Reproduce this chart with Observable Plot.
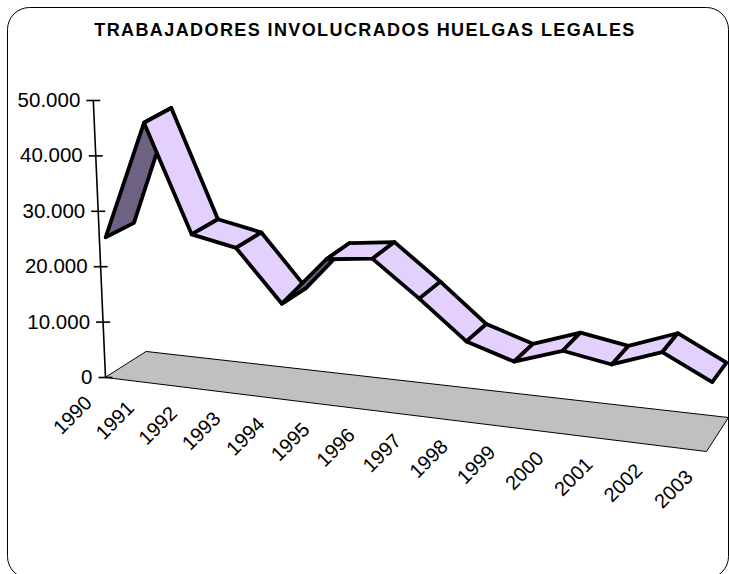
<!DOCTYPE html>
<html>
<head>
<meta charset="utf-8">
<script src="https://cdn.jsdelivr.net/npm/d3@7"></script>
<script src="https://cdn.jsdelivr.net/npm/@observablehq/plot@0.6"></script>
<style>
  html, body { margin: 0; padding: 0; background: #ffffff; }
  #chart { width: 729px; height: 574px; overflow: hidden; }
</style>
</head>
<body>
<div id="chart"></div>
<script>
// ---------- data ----------
const title = "TRABAJADORES INVOLUCRADOS HUELGAS LEGALES";
const years = ["1990","1991","1992","1993","1994","1995","1996","1997","1998","1999","2000","2001","2002","2003"];
const workers = [24600, 46200, 27000, 25500, 16400, 25400, 26500, 20300, 13600, 11000, 14000, 12600, 15900, 11600];
const tickValues = [0, 10000, 20000, 30000, 40000, 50000];
const tickLabels = ["0", "10.000", "20.000", "30.000", "40.000", "50.000"];

// ---------- 3D projection (layout constants) ----------
const P00 = [105, 377], P10 = [706, 451], P01 = [146, 351], P11 = [728, 417]; // floor corners
const LAMBDA = 1.1;            // perspective foreshortening along categories
const KPX = 277 / 50000;       // px per unit of value
const S0 = -0.044, S1 = 0.037; // vertical slant at left / right
const ZF = 0.15;               // depth of ribbon front edge
const n = years.length;

function gOf(i) { const t = i / (n - 1); return t / (LAMBDA - (LAMBDA - 1) * t); }
function floorPt(g, z) {
  const F = [P00[0] + g * (P10[0] - P00[0]), P00[1] + g * (P10[1] - P00[1])];
  const K = [P01[0] + g * (P11[0] - P01[0]), P01[1] + g * (P11[1] - P01[1])];
  return [F[0] + z * (K[0] - F[0]), F[1] + z * (K[1] - F[1])];
}
function proj(i, v, z) {
  const g = gOf(i), b = floorPt(g, z), s = S0 + (S1 - S0) * g, h = KPX * v;
  return [b[0] + s * h, b[1] - h];
}
function depthVec(i) { const g = gOf(i); return [28.3 - 14 * g, -14.4 - 5 * g]; }

// ---------- derived geometry ----------
const floorPoly = [proj(0, 0, 0), proj(n - 1, 0, 0), proj(n - 1, 0, 1), proj(0, 0, 1)]
  .map(([x, y]) => ({x, y}));

const faces = [];
for (let i = 0; i < n - 1; i++) {
  const f0 = proj(i, workers[i], ZF), f1 = proj(i + 1, workers[i + 1], ZF);
  const d0 = depthVec(i), d1 = depthVec(i + 1);
  const b0 = [f0[0] + d0[0], f0[1] + d0[1]], b1 = [f1[0] + d1[0], f1[1] + d1[1]];
  const seg = [f1[0] - f0[0], f1[1] - f0[1]];
  const dm = [(d0[0] + d1[0]) / 2, (d0[1] + d1[1]) / 2];
  const cross = seg[0] * dm[1] - seg[1] * dm[0];
  faces.push({dark: cross > 0, pts: [f0, f1, b1, b0].map(([x, y]) => ({x, y}))});
}

const axisPts = tickValues.map(v => { const [x, y] = proj(0, v, 0); return {x, y}; });
const tickData = tickValues.map((v, k) => { const [x, y] = proj(0, v, 0); return {x, y, label: tickLabels[k]}; });
const catLabels = years.map((yr, i) => { const [x, y] = floorPt(gOf(i), 0); return {x: x - 17, y: y + 22, label: yr}; });

const FONT = "'Liberation Sans', Arial, Helvetica, sans-serif";

const marks = [
  Plot.frame({stroke: "#000", strokeWidth: 1, rx: 22, insetLeft: 7, insetTop: 7, insetRight: 1, insetBottom: -4}),
  Plot.text([title], {frameAnchor: "top", dy: 30, lineAnchor: "middle", text: d => d, fontSize: 18, fontWeight: "bold", fontFamily: FONT, fill: "#000"}),
  Plot.line(floorPoly, {x: "x", y: "y", curve: "linear-closed", fill: "#c0c0c0", stroke: "#000", strokeWidth: 1}),
  Plot.line(axisPts, {x: "x", y: "y", stroke: "#000", strokeWidth: 1.6}),
  Plot.link(tickData, {x1: d => d.x - 7, x2: d => d.x + 7, y1: "y", y2: "y", stroke: "#000", strokeWidth: 1.6}),
  Plot.text(tickData, {x: d => d.x - 13, y: "y", text: "label", textAnchor: "end", fontSize: 20.5, fontFamily: FONT, fill: "#000"}),
  Plot.text(catLabels, {x: "x", y: "y", text: "label", textAnchor: "end", rotate: -45, fontSize: 20, fontFamily: FONT, fill: "#000"}),
  ...faces.map(f => Plot.line(f.pts, {x: "x", y: "y", curve: "linear-closed",
      fill: f.dark ? "url(#ribbonDark)" : "url(#ribbonLight)",
      stroke: "#000", strokeWidth: 3.8, strokeLinejoin: "round"}))
];

const svg = Plot.plot({
  width: 729, height: 574, margin: 0,
  x: {type: "linear", domain: [0, 729], range: [0, 729], axis: null},
  y: {type: "linear", domain: [0, 574], range: [0, 574], axis: null},
  style: {background: "#fff", overflow: "hidden"},
  marks
});

// stripe patterns for the ribbon faces
const NS = "http://www.w3.org/2000/svg";
const defs = document.createElementNS(NS, "defs");
function addPattern(id, c1, c2) {
  const p = document.createElementNS(NS, "pattern");
  p.setAttribute("id", id); p.setAttribute("patternUnits", "userSpaceOnUse");
  p.setAttribute("width", "4"); p.setAttribute("height", "2");
  const r1 = document.createElementNS(NS, "rect");
  r1.setAttribute("width", "4"); r1.setAttribute("height", "2"); r1.setAttribute("fill", c2);
  const r2 = document.createElementNS(NS, "rect");
  r2.setAttribute("width", "4"); r2.setAttribute("height", "1"); r2.setAttribute("fill", c1);
  p.appendChild(r1); p.appendChild(r2); defs.appendChild(p);
}
addPattern("ribbonLight", "#cdaefb", "#f8f2ff");
addPattern("ribbonDark", "#574a6a", "#85789a");
svg.insertBefore(defs, svg.firstChild);
svg.querySelectorAll("text").forEach(t => { if (t.textContent === title) t.setAttribute("letter-spacing", "1.4"); });

document.getElementById("chart").appendChild(svg);
</script>
</body>
</html>
